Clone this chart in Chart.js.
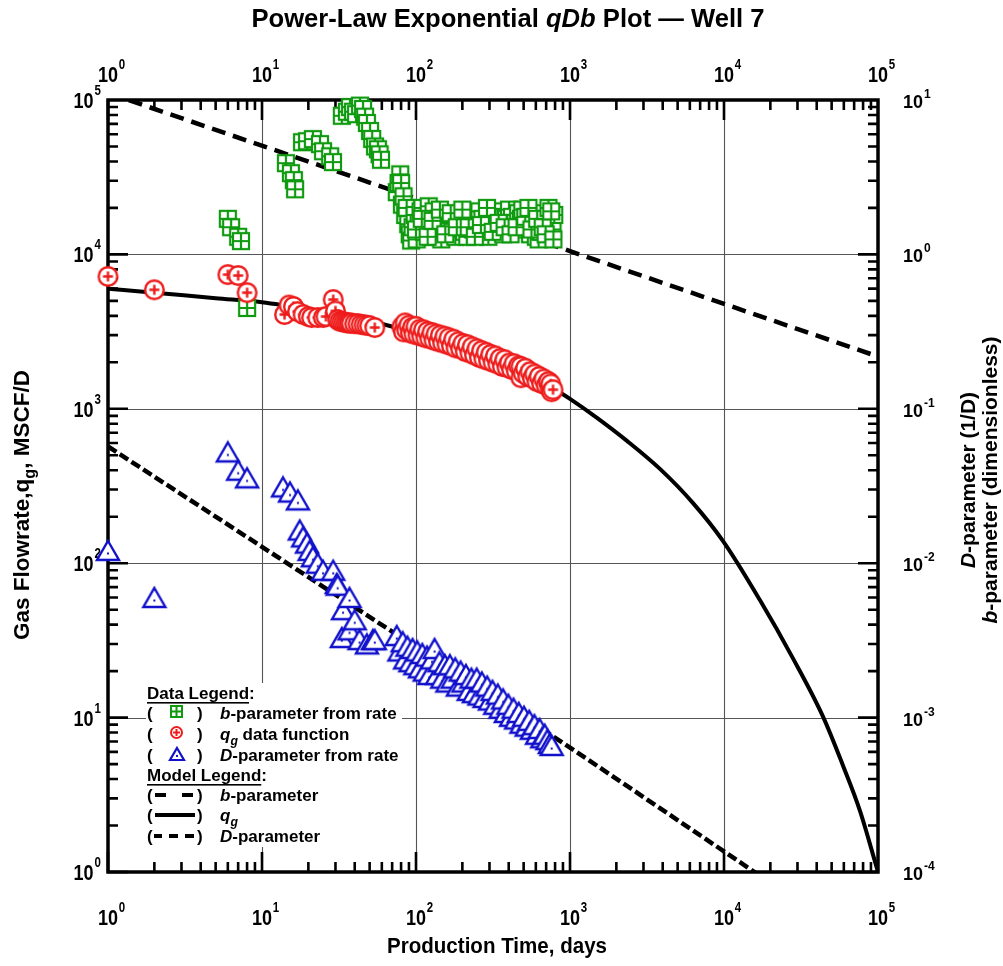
<!DOCTYPE html>
<html><head><meta charset="utf-8">
<script src="https://cdn.jsdelivr.net/npm/chart.js@4/dist/chart.umd.min.js"></script>
<style>html,body{margin:0;padding:0;background:#fff;overflow:hidden}</style>
</head><body>
<canvas id="c" width="1003" height="966"></canvas>
<script>
// ---------------- data ----------------
// q_g data function (Gas Flowrate, MSCF/D) vs production time (days)
const qgTime = [1,2,6,7,8,14,15,16,17,18.5,20,21,23,25,26,29,30,31,32,33,34,35,36,37,38,40,42,44,46,48,50,54,
  81,83,85,87,90,92,95,97,100,103,106,109,112,116,119,123,127,131,135,140,144,149,154,159,164,170,176,182,188,195,
  202,209,216,224,232,240,249,258,267,276,286,296,306,317,328,340,352,364,377,390,404,418,433,448,464,480,480,497,
  514,532,551,570,590,610,632,654,677,700,724,741,750,760,776];
const qgRate = [7200,5900,7400,7300,5650,4080,4700,4600,4260,4080,3960,3900,3900,3900,3960,5100,4300,3780,3700,3670,3650,3620,3600,3600,3580,3560,3560,3520,3500,3470,3460,3360,
  3400,3150,3600,3250,3480,3100,3380,3050,3420,3000,3280,2950,3250,2880,3170,2850,3120,2780,3050,2720,3000,2680,2950,2620,2880,2560,2820,2480,2720,2450,
  2650,2350,2600,2300,2520,2230,2450,2150,2380,2100,2320,2050,2250,2000,2200,1950,2120,1880,2080,1850,1980,1800,1960,1760,1900,1590,1880,1700,
  1830,1620,1740,1580,1680,1500,1620,1460,1560,1420,1500,1380,1450,1290,1330];
// b-parameter from rate (dimensionless, right axis)
const bTime = [6,6.3,7,7.3,8,14.3,15.4,16.1,16.4,18.2,19.6,21.4,23.8,24.9,27.7,28.9,
  33,35.6,37.3,39,40.8,43.3,45.3,46.7,48,50.3,51.9,54.2,56.6,58,59.2,
  75,77,79,80,81,83,85,87,89,91,93,95,98,101,104,107,110,113,117,121,125,130,135,140,146,152,158,165,172,180,
  188,196,205,215,225,235,247,258,270,282,295,308,322,337,352,368,385,402,420,440,460,480,500,525,550,575,600,625,650,680,710,740,770,790,
  100,109,119,128,143,155,168,184,200,220,241,264,289,315,344,376,411,450,490,512,537,562,612,665,695,725,755,780];
const bValue = [1.7,1.5,1.3,1.22,0.45,3.9,3.36,3.03,2.64,5.33,5.41,5.58,5.18,4.66,4.32,3.96,
  7.9,8.4,9.0,8.4,8.1,9.2,8.75,7.8,7.1,6.3,5.6,5.0,4.8,4.45,4.1,
  2.53,2.9,3.3,2.9,2.1,2.38,1.8,2.0,1.57,1.35,1.23,1.5,1.8,1.25,1.6,1.9,2.0,1.4,1.7,2.05,1.3,1.9,1.55,1.7,1.25,1.45,1.75,1.6,1.4,1.3,
  1.55,1.7,1.4,1.3,1.6,1.45,1.65,1.9,1.7,1.45,1.3,1.6,1.9,1.75,1.45,1.35,1.7,1.95,1.75,1.6,1.85,1.7,1.45,1.55,1.35,1.6,1.3,1.25,1.4,1.85,1.7,1.55,1.45,1.8,
  1.45,1.7,1.3,1.65,1.95,1.35,1.85,1.5,1.95,1.5,1.3,1.55,2.0,1.4,1.6,1.5,1.35,1.5,1.95,1.75,2.0,1.45,1.7,1.5,1.35,2.0,1.9,1.25];
// D-parameter from rate (1/D, right axis)
const dTime = [1,2,6,7,8,13.7,15.2,17.1,17.6,18.5,19.6,20.4,21.4,23,24.9,29,30.6,31,33,33.6,37,37,40,43,48,52.5,54,
  75,78,82,85,88,92,95,99,102,106,110,114,118,122,127,132,137,142,148,154,160,166,173,180,187,195,203,211,220,229,
  238,248,258,268,279,290,302,314,327,340,354,368,383,398,414,430,447,465,484,503,523,544,566,588,611,635,660,686,713,740,760];
const dValue = [0.0121,0.0060,0.0526,0.040,0.0357,0.0312,0.0289,0.0257,0.0164,0.0148,0.0135,0.0121,0.011,0.010,0.009,0.009,0.0074,0.0072,0.0033,0.005,0.006,0.0037,0.0043,0.0032,0.0030,0.0032,0.0032,
  0.0034,0.0027,0.0031,0.0024,0.0029,0.0023,0.0028,0.0022,0.0027,0.0021,0.0026,0.0020,0.0025,0.0019,0.0024,0.0028,0.0019,0.0023,0.0018,0.0022,0.0017,0.0022,0.0018,0.0021,0.0016,0.0020,0.0017,0.0019,0.0015,0.0018,
  0.00145,0.0018,0.0014,0.0017,0.00135,0.0016,0.0013,0.0015,0.00122,0.00142,0.00115,0.00132,0.00108,0.00122,0.00102,0.00115,0.00098,0.00108,0.00092,0.00102,0.00088,0.00096,0.00084,0.00090,0.00078,0.00085,0.00074,0.00078,0.00072,0.00068,0.00066];
// model curves
const qgModelTime = [1,2,5,10,20,50,100,200,300,500,700,1000,1497,2344,3839,6295,9863,17140,28050,43950,59290,76380,100000];
const qgModelRate = [6000,5650,5200,4900,4400,3700,3100,2600,2330,1800,1450,1160,874,620,408,245,139,57.5,24.2,10.15,4.88,2.49,1.0];
const bModelTime = [1,1000,100000];
const bModelValue = [11.1,1.05,0.218];
const dModelTime = [1,1000,10000,17000];
const dModelValue = [0.057,0.00064,0.000136,0.000095];
// axis tick exponents
const xExps = [0,1,2,3,4,5];
const yExps = [0,1,2,3,4,5];
const y2Exps = [-4,-3,-2,-1,0,1];

// ---------------- styles ----------------
const GREEN = '#0f9a0f', RED = '#ee1c1c', BLUE = '#1111cc';
const FAM = "'Liberation Sans', Arial, sans-serif";
function mk(w,h){const c=document.createElement('canvas');c.width=w;c.height=h;return c;}
function squareStyle(s,col,lw){const p=2,c=mk(s+2*p,s+2*p),g=c.getContext('2d');
  g.fillStyle='#fff';g.fillRect(p,p,s,s);g.strokeStyle=col;g.lineWidth=lw;g.strokeRect(p,p,s,s);
  g.beginPath();g.moveTo(p+s/2,p);g.lineTo(p+s/2,p+s);g.moveTo(p,p+s/2);g.lineTo(p+s,p+s/2);g.stroke();return c;}
function circleStyle(d,col,lw,arm){const p=2,c=mk(d+2*p,d+2*p),g=c.getContext('2d'),cx=p+d/2;
  g.fillStyle='#fff';g.beginPath();g.arc(cx,cx,d/2-lw/2,0,Math.PI*2);g.fill();
  g.strokeStyle=col;g.lineWidth=lw;g.stroke();
  g.beginPath();g.moveTo(cx-arm,cx);g.lineTo(cx+arm,cx);g.moveTo(cx,cx-arm);g.lineTo(cx,cx+arm);g.stroke();return c;}
function triStyle(w,h,col,lw){const p=3,c=mk(w+2*p,h+2*p),g=c.getContext('2d');
  g.beginPath();g.moveTo(p+w/2,p);g.lineTo(p+w,p+h);g.lineTo(p,p+h);g.closePath();
  g.fillStyle='#fff';g.fill();g.strokeStyle=col;g.lineWidth=lw;g.lineJoin='miter';g.stroke();
  g.fillStyle=col;g.fillRect(p+w/2-1,p+h*0.66-1,2,2);return c;}
const sqImg = squareStyle(16,GREEN,2.2);
const ciImg = circleStyle(21,RED,2.4,5);
const trImg = triStyle(22,19,BLUE,2.4);

// ---------------- text helpers ----------------
function fnt(p,size){return (p.it?'italic ':'')+'bold '+(p.sub?size*0.72:size)+'px '+FAM;}
function richWidth(ctx,parts,size){let w=0;for(const p of parts){ctx.font=fnt(p,size);w+=ctx.measureText(p.t).width;}return w;}
function drawRich(ctx,parts,x,y,size){for(const p of parts){ctx.font=fnt(p,size);ctx.fillText(p.t,x,y+(p.sub?size*0.28:0));x+=ctx.measureText(p.t).width;}return x;}
function drawRichCentered(ctx,parts,cx,y,size,hs){ctx.save();const w=richWidth(ctx,parts,size);ctx.translate(cx,y);ctx.scale(hs,1);drawRich(ctx,parts,-w/2,0,size);ctx.restore();}
function sci(ctx,exp,x,y,o){ // "10" with superscript
  ctx.save();ctx.textBaseline='alphabetic';ctx.textAlign='left';
  ctx.font='bold '+o.size+'px '+FAM;const w10=ctx.measureText('10').width*o.hs;
  ctx.font='bold '+o.sup+'px '+FAM;const ws=ctx.measureText(String(exp)).width*o.hs;
  let x0;
  if(o.align==='center')x0=x-w10/2;else if(o.align==='right')x0=x-w10-ws-1;else x0=x;
  ctx.translate(x0,y);ctx.scale(o.hs,1);
  ctx.font='bold '+o.size+'px '+FAM;ctx.fillText('10',0,0);
  ctx.font='bold '+o.sup+'px '+FAM;ctx.fillText(String(exp),w10/o.hs+1,-o.supDy);
  ctx.restore();
}

const deco = {
  id:'deco',
  beforeDatasetsDraw(chart){
    const {ctx,chartArea:a,scales:{x,y,y2}}=chart;
    ctx.save();
    // grid
    ctx.strokeStyle='#555';ctx.lineWidth=1.1;ctx.beginPath();
    for(const e of xExps){const px=Math.round(x.getPixelForValue(10**e))+0.5;ctx.moveTo(px,a.top);ctx.lineTo(px,a.bottom);}
    for(const e of yExps){const py=Math.round(y.getPixelForValue(10**e))+0.5;ctx.moveTo(a.left,py);ctx.lineTo(a.right,py);}
    ctx.stroke();
    // legend background
    ctx.fillStyle='#fff';ctx.fillRect(146,683,256,164);
    // ticks
    ctx.strokeStyle='#000';ctx.lineWidth=2.6;ctx.beginPath();
    for(let e=0;e<5;e++)for(let m=1;m<=9;m++){const v=m*10**e,L=(m===1?20:10);
      const px=x.getPixelForValue(v);ctx.moveTo(px,a.bottom);ctx.lineTo(px,a.bottom-L);ctx.moveTo(px,a.top);ctx.lineTo(px,a.top+L);
      const py=y.getPixelForValue(v);ctx.moveTo(a.left,py);ctx.lineTo(a.left+L,py);}
    for(let e=-4;e<1;e++)for(let m=1;m<=9;m++){const v=m*10**e,L=(m===1?20:10);const py=y2.getPixelForValue(v);ctx.moveTo(a.right,py);ctx.lineTo(a.right-L,py);}
    ctx.stroke();
    // frame
    ctx.lineWidth=3.5;ctx.strokeRect(a.left,a.top,a.right-a.left,a.bottom-a.top);
    ctx.fillStyle='#000';
    // tick labels
    const narrow={size:22,sup:14,hs:0.82,supDy:13};
    for(const e of xExps){const px=x.getPixelForValue(10**e);
      sci(ctx,e,px,925,Object.assign({align:'center'},narrow));
      sci(ctx,e,px,82,Object.assign({align:'center'},narrow));}
    for(const e of yExps){const py=y.getPixelForValue(10**e);sci(ctx,e,101,py+8,Object.assign({align:'right'},narrow));}
    for(const e of y2Exps){const py=y2.getPixelForValue(10**e);sci(ctx,e,903,py+8,{align:'left',size:18,sup:12,hs:1,supDy:10});}
    // title
    const tParts=[{t:'Power-Law Exponential '},{t:'qDb',it:true},{t:' Plot \u2014 Well 7'}];
    const tw=richWidth(ctx,tParts,25);
    drawRichCentered(ctx,tParts,508,27,25,513/tw);
    // x title
    const xParts=[{t:'Production Time, days'}];
    const xw=richWidth(ctx,xParts,22);
    drawRichCentered(ctx,xParts,497,953,22,220/xw);
    // left title (fit to its length in the reference)
    const lParts=[{t:'Gas Flowrate,q'},{t:'g',sub:true},{t:', MSCF/D'}];
    const lsz=19*270/richWidth(ctx,lParts,19);
    ctx.save();ctx.translate(29,505);ctx.rotate(-Math.PI/2);
    drawRichCentered(ctx,lParts,0,0,lsz,1);ctx.restore();
    // right titles
    const r1=[{t:'D',it:true},{t:'-parameter (1/D)'}], r2=[{t:'b',it:true},{t:'-parameter (dimensionless)'}];
    ctx.save();ctx.translate(975,480);ctx.rotate(-Math.PI/2);drawRichCentered(ctx,r1,0,0,21,1);ctx.restore();
    ctx.save();ctx.translate(997,480);ctx.rotate(-Math.PI/2);drawRichCentered(ctx,r2,0,0,21,1);ctx.restore();
    // legend
    const LS=17, rows=[699,719,740,761,781,801,821,842];
    function head(txt,yb){ctx.font='bold '+LS+'px '+FAM;ctx.fillText(txt+':',147,yb);const w=ctx.measureText(txt).width;ctx.fillRect(147,yb+3,w,1.6);}
    function paren(yb){ctx.font='bold '+LS+'px '+FAM;ctx.fillText('(',147,yb);ctx.fillText(')',197,yb);}
    head('Data Legend',rows[0]);
    paren(rows[1]);ctx.drawImage(squareStyle(11,GREEN,2),169,rows[1]-15);
    drawRich(ctx,[{t:'b',it:true},{t:'-parameter from rate'}],220,rows[1],LS);
    paren(rows[2]);ctx.drawImage(circleStyle(13,RED,2,3.5),168,rows[2]-16);
    drawRich(ctx,[{t:'q',it:true},{t:'g',it:true,sub:true},{t:' data function'}],220,rows[2],LS);
    paren(rows[3]);ctx.drawImage(triStyle(14,12,BLUE,2.2),167,rows[3]-16);
    drawRich(ctx,[{t:'D',it:true},{t:'-parameter from rate'}],220,rows[3],LS);
    head('Model Legend',rows[4]);
    ctx.strokeStyle='#000';ctx.lineWidth=4;
    paren(rows[5]);ctx.beginPath();ctx.moveTo(155,rows[5]-6);ctx.lineTo(166,rows[5]-6);ctx.moveTo(182,rows[5]-6);ctx.lineTo(193,rows[5]-6);ctx.stroke();
    drawRich(ctx,[{t:'b',it:true},{t:'-parameter'}],220,rows[5],LS);
    paren(rows[6]);ctx.beginPath();ctx.moveTo(155,rows[6]-6);ctx.lineTo(195,rows[6]-6);ctx.stroke();
    drawRich(ctx,[{t:'q',it:true},{t:'g',it:true,sub:true}],220,rows[6],LS);
    paren(rows[7]);ctx.beginPath();ctx.moveTo(154,rows[7]-6);ctx.lineTo(162,rows[7]-6);ctx.moveTo(169,rows[7]-6);ctx.lineTo(178,rows[7]-6);ctx.moveTo(185,rows[7]-6);ctx.lineTo(194,rows[7]-6);ctx.stroke();
    drawRich(ctx,[{t:'D',it:true},{t:'-parameter'}],220,rows[7],LS);
    ctx.restore();
  }
};

const zip=(t,v)=>t.map((ti,i)=>({x:ti,y:v[i]}));
new Chart(document.getElementById('c'),{
  type:'scatter',
  data:{datasets:[
    {label:'q_g data function',data:zip(qgTime,qgRate),yAxisID:'y',pointStyle:ciImg,pointRadius:10,order:1,showLine:false,clip:false},
    {label:'D-parameter from rate',data:zip(dTime,dValue),yAxisID:'y2',pointStyle:trImg,pointRadius:10,order:2,showLine:false,clip:false},
    {label:'b-parameter from rate',data:zip(bTime,bValue),yAxisID:'y2',pointStyle:sqImg,pointRadius:9,order:3,showLine:false,clip:false},
    {label:'q_g model',data:zip(qgModelTime,qgModelRate),yAxisID:'y',showLine:true,borderColor:'#000',borderWidth:4,pointRadius:0,cubicInterpolationMode:'monotone',order:6},
    {label:'b model',data:zip(bModelTime,bModelValue),yAxisID:'y2',showLine:true,borderColor:'#000',borderWidth:4.5,borderDash:[14,8],pointRadius:0,order:7},
    {label:'D model',data:zip(dModelTime,dModelValue),yAxisID:'y2',showLine:true,borderColor:'#000',borderWidth:4.5,borderDash:[10,4],pointRadius:0,order:8}
  ]},
  options:{
    responsive:false,animation:false,devicePixelRatio:1,
    layout:{padding:{left:108,right:125,top:100,bottom:94}},
    scales:{
      x:{type:'logarithmic',min:1,max:1e5,display:false},
      y:{type:'logarithmic',min:1,max:1e5,display:false,position:'left'},
      y2:{type:'logarithmic',min:1e-4,max:10,display:false,position:'right'}
    },
    plugins:{legend:{display:false},tooltip:{enabled:false},title:{display:false}},
    events:[]
  },
  plugins:[deco]
});
</script>
</body></html>
